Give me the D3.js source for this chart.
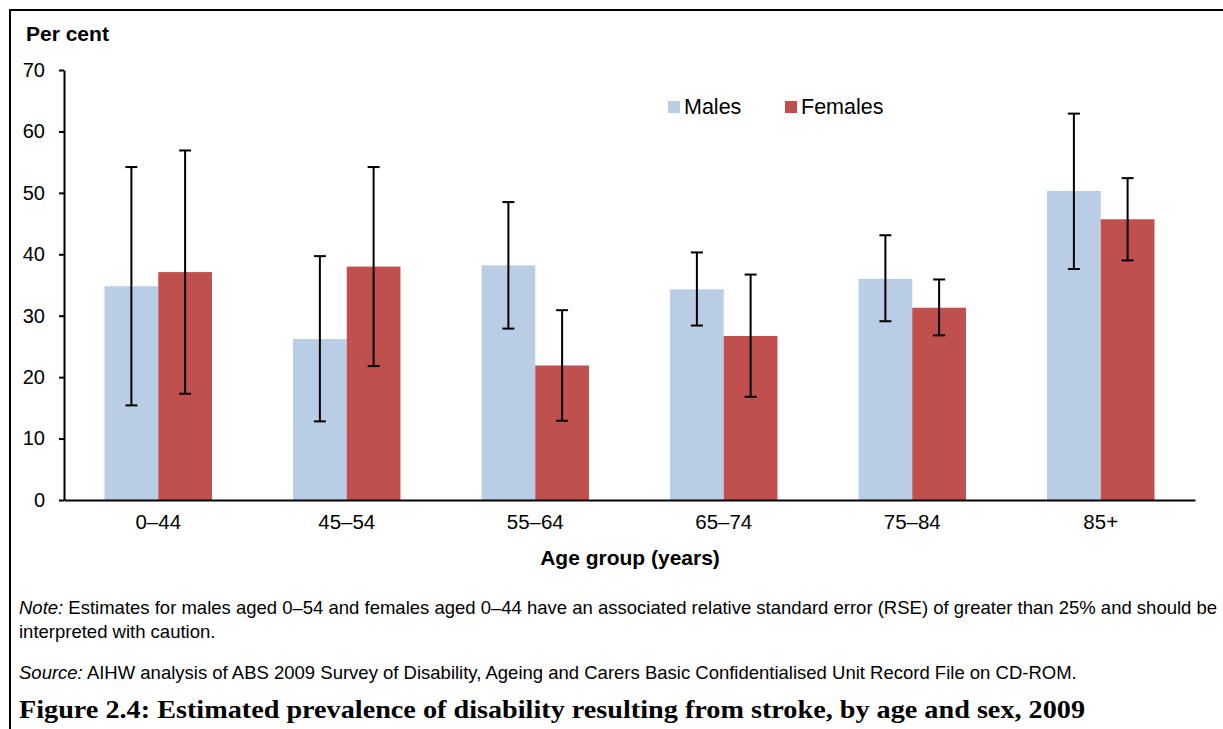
<!DOCTYPE html>
<html>
<head>
<meta charset="utf-8">
<script src="https://cdn.jsdelivr.net/npm/d3@7"></script>
<style>
  body { margin: 0; background: #fff; }
  text { font-family: "Liberation Sans", Arial, sans-serif; fill: #000; }
</style>
</head>
<body>
<div id="chart"></div>
<script>
// data
var ageGroups = ["0–44", "45–54", "55–64", "65–74", "75–84", "85+"];
var males      = [34.8, 26.2, 38.2, 34.3, 36.0, 50.3];
var malesLow   = [15.4, 12.8, 27.9, 28.4, 29.1, 37.6];
var malesHigh  = [54.2, 39.7, 48.5, 40.3, 43.1, 62.9];
var females     = [37.1, 38.0, 21.9, 26.7, 31.3, 45.7];
var femalesLow  = [17.3, 21.8, 12.9, 16.8, 26.8, 39.0];
var femalesHigh = [56.9, 54.2, 30.9, 36.7, 35.9, 52.4];
var seriesNames = ["Males", "Females"];
var yTicks = [0, 10, 20, 30, 40, 50, 60, 70];

var colors = {Males: "#b9cde5", Females: "#c0504d"};

var W = 1223, H = 729;
var margin = {top: 70, right: 28, bottom: 229, left: 64},
    width = W - margin.left - margin.right,
    height = H - margin.top - margin.bottom;

var svg = d3.select("#chart").append("svg")
    .attr("width", W)
    .attr("height", H);

// outer frame (runs off the right and bottom edges)
svg.append("rect")
  .attr("x", 10).attr("y", 10)
  .attr("width", 1400).attr("height", 900)
  .attr("fill", "none")
  .attr("stroke", "#000")
  .attr("stroke-width", 2);

var g = svg.append("g")
  .attr("transform", "translate(" + margin.left + "," + margin.top + ")");

var x = d3.scaleBand()
  .domain(ageGroups)
  .range([0, width])
  .paddingInner(0.43)
  .paddingOuter(0.215);

var xs = d3.scaleBand()
  .domain(seriesNames)
  .range([0, x.bandwidth()]);

var y = d3.scaleLinear()
  .domain([0, 70])
  .range([height, 0]);

// build rows
var rows = ageGroups.map(function(a, i) {
  return {
    age: a,
    values: [
      {name: "Males", v: males[i], lo: malesLow[i], hi: malesHigh[i]},
      {name: "Females", v: females[i], lo: femalesLow[i], hi: femalesHigh[i]}
    ]
  };
});

var grp = g.selectAll(".grp")
  .data(rows)
  .enter().append("g")
    .attr("transform", function(d) { return "translate(" + x(d.age) + ",0)"; });

grp.selectAll("rect")
  .data(function(d) { return d.values; })
  .enter().append("rect")
    .attr("x", function(d) { return xs(d.name); })
    .attr("y", function(d) { return y(d.v); })
    .attr("width", xs.bandwidth())
    .attr("height", function(d) { return height - y(d.v); })
    .attr("fill", function(d) { return colors[d.name]; });

// error bars
var err = grp.selectAll(".err")
  .data(function(d) { return d.values; })
  .enter().append("g")
    .attr("transform", function(d) { return "translate(" + (xs(d.name) + xs.bandwidth() / 2) + ",0)"; })
    .attr("stroke", "#000")
    .attr("stroke-width", 2);

err.append("line")
  .attr("x1", 0).attr("x2", 0)
  .attr("y1", function(d) { return y(d.lo); })
  .attr("y2", function(d) { return y(d.hi); });
err.append("line")
  .attr("x1", -6).attr("x2", 6)
  .attr("y1", function(d) { return y(d.hi); })
  .attr("y2", function(d) { return y(d.hi); });
err.append("line")
  .attr("x1", -6).attr("x2", 6)
  .attr("y1", function(d) { return y(d.lo); })
  .attr("y2", function(d) { return y(d.lo); });

// Y axis
var yAxis = g.append("g")
  .call(d3.axisLeft(y).tickValues(yTicks).tickSize(5).tickPadding(14).tickSizeOuter(0));
yAxis.select(".domain").attr("stroke-width", 2);
yAxis.selectAll(".tick line").attr("stroke-width", 2);
yAxis.selectAll("text").style("font-size", "20px").style("font-family", "Liberation Sans, Arial, sans-serif");

// X axis
var xAxis = g.append("g")
  .attr("transform", "translate(0," + height + ")")
  .call(d3.axisBottom(x).tickSize(0).tickPadding(14).tickSizeOuter(0));
xAxis.select(".domain").attr("stroke-width", 2);
xAxis.selectAll("text").style("font-size", "20.5px").style("font-family", "Liberation Sans, Arial, sans-serif");

// axis titles
svg.append("text")
  .attr("x", 26).attr("y", 41)
  .style("font-size", "21px").style("font-weight", "bold")
  .text("Per cent");

svg.append("text")
  .attr("x", 630).attr("y", 565)
  .attr("text-anchor", "middle")
  .style("font-size", "21px").style("font-weight", "bold")
  .text("Age group (years)");

// legend
var legend = svg.append("g").attr("transform", "translate(668,101)");
var legX = [0, 117];
seriesNames.forEach(function(n, i) {
  legend.append("rect")
    .attr("x", legX[i]).attr("y", 0)
    .attr("width", 12).attr("height", 12)
    .attr("fill", colors[n]);
  legend.append("text")
    .attr("x", legX[i] + 16).attr("y", 13)
    .style("font-size", "21.5px")
    .text(n);
});

// notes
var note = svg.append("text").attr("x", 19).attr("y", 614).style("font-size", "18.5px");
note.append("tspan").style("font-style", "italic").text("Note:");
note.append("tspan").text(" Estimates for males aged 0–54 and females aged 0–44 have an associated relative standard error (RSE) of greater than 25% and should be");
svg.append("text").attr("x", 19).attr("y", 638).style("font-size", "18.5px")
  .text("interpreted with caution.");

var src = svg.append("text").attr("x", 19).attr("y", 679).style("font-size", "18.5px");
src.append("tspan").style("font-style", "italic").text("Source:");
src.append("tspan").text(" AIHW analysis of ABS 2009 Survey of Disability, Ageing and Carers Basic Confidentialised Unit Record File on CD-ROM.");

svg.append("text")
  .attr("x", 19).attr("y", 718)
  .style("font-family", "'Liberation Serif', serif")
  .style("font-size", "25px").style("font-weight", "bold")
  .attr("textLength", 1066)
  .attr("lengthAdjust", "spacingAndGlyphs")
  .text("Figure 2.4: Estimated prevalence of disability resulting from stroke, by age and sex, 2009");
</script>
</body>
</html>
